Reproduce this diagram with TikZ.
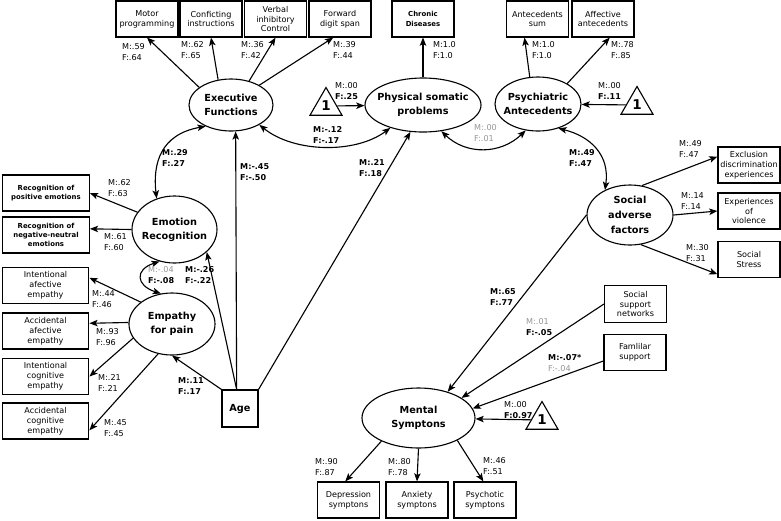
\documentclass[tikz,border=0pt]{standalone}
\usepackage{fontspec}
\setmainfont{DejaVu Sans}
\usetikzlibrary{arrows.meta,shapes.geometric}
\newcommand\boxfont{\fontsize{6.9}{8.5}\selectfont}
\newcommand\boldboxfont{\fontsize{5.9}{8}\selectfont\bfseries}
\newcommand\latfont{\fontsize{8.3}{12}\selectfont\bfseries}
\newcommand\coeffont{\fontsize{6.9}{8.9}\selectfont}
\colorlet{pale}{black!42}

\begin{document}
\begin{tikzpicture}[x = 0.03cm, y = -0.03cm,
    obs/.style = {draw, line width = 0.95pt, minimum width = 1.86cm, minimum height = 1.08cm, inner sep = 1pt, align = center, font = \boxfont},
    obswide/.style = {obs, minimum width = 2.6cm},
    lat/.style = {draw, ellipse, line width = 0.95pt, inner sep = 0pt},
    lattxt/.style = {align = center, font = \latfont},
    one/.style = {draw, regular polygon, regular polygon sides = 3, minimum size = 1.11cm, inner sep = 0pt, line width = 0.95pt, font = \fontsize{11.5}{11.5}\selectfont\bfseries},
    coef/.style = {anchor = west, align = left, inner sep = 0pt, font = \coeffont},
    bcoef/.style = {coef, font = \coeffont\bfseries},
    arr/.style = {line width = 0.95pt, -{Stealth[length = 7pt, width = 5.5pt, inset = 1.6pt]}},
    dbl/.style = {line width = 0.95pt, {Stealth[length = 7pt, width = 5.5pt, inset = 1.6pt]}-{Stealth[length = 7pt, width = 5.5pt, inset = 1.6pt]}}]
        \useasboundingbox(0,0)rectangle(781,520);
        % latent variables
        \node[lat, minimum width = 2.52cm, minimum height = 1.56cm, label = {[lattxt]center:{Executive\\Functions}}](exf)at(231,105){};
        \node[lat, minimum width = 3.48cm, minimum height = 1.62cm, label = {[lattxt]center:{Physical somatic\\problems}}](phy)at(423,105){};
        \node[lat, minimum width = 2.58cm, minimum height = 1.62cm, label = {[lattxt]center:{Psychiatric\\Antecedents}}](psy)at(538,104){};
        \node[lat, minimum width = 2.55cm, minimum height = 2.01cm, label = {[lattxt]center:{Emotion\\Recognition}}](emo)at(174.5,229.5){};
        \node[lat, minimum width = 2.58cm, minimum height = 1.86cm, label = {[lattxt]center:{Empathy\\for pain}}](emp)at(172,324){};
        \node[lat, minimum width = 2.58cm, minimum height = 1.8cm, label = {[lattxt, font = \fontsize{8.3}{13}\selectfont\bfseries]center:{Social\\adverse\\factors}}](soc)at(630,215){};
        \node[lat, minimum width = 3.39cm, minimum height = 1.8cm, label = {[lattxt]center:{Mental\\Symptons}}](men)at(418.5,418){};
        % intercepts
        \node[one](one1)at(326,106){1};
        \node[one](one2)at(637,105){1};
        \node[one](one3)at(542,420){1};
        % top indicators
        \node[obs](motor)at(147,19){Motor\\programming};
        \node[obs](confl)at(211,19){Conficting\\instructions};
        \node[obs](verbal)at(275.5,19){Verbal\\inhibitory\\Control};
        \node[obs](fwd)at(340,19){Forward\\digit span};
        \node[obs, font = \boldboxfont](chron)at(423,19){Chronic\\Diseases};
        \node[obs](antsum)at(537.5,19){Antecedents\\sum};
        \node[obs](antaff)at(603,19){Affective\\antecedents};
        % left indicators
        \node[obswide, font = \boldboxfont](recpos)at(46,193){Recognition of\\positive emotions};
        \node[obswide, font = \boldboxfont](recneg)at(46,235){Recognition of\\negative-neutral\\emotions};
        \node[obswide](intaf)at(45.5,285.5){Intentional\\afective\\empathy};
        \node[obswide](accaf)at(45.5,331){Accidental\\afective\\empathy};
        \node[obswide](intcog)at(45.5,376.5){Intentional\\cognitive\\empathy};
        \node[obswide](acccog)at(45.5,421){Accidental\\cognitive\\empathy};
        \node[obs, minimum width = 1.08cm, minimum height = 1.11cm, font = \latfont](age)at(240,408.5){Age};
        % right indicators
        \node[obs](excl)at(749,165){Exclusion\\discrimination\\experiences};
        \node[obs](viol)at(749,211){Experiences\\of\\violence};
        \node[obs](stress)at(749,259.5){Social\\Stress};
        \node[obs, minimum height = 1.12cm](netw)at(635.5,304){Social\\support\\networks};
        \node[obs, minimum height = 1.1cm](famil)at(635,352.5){Famlilar\\support};
        % bottom indicators
        \node[obs](depr)at(348.5,500){Depression\\symptons};
        \node[obs](anxi)at(417,500){Anxiety\\symptons};
        \node[obs](psyc)at(485,500){Psychotic\\symptons};
        % loadings
        \path[draw, arr](exf.151)to(motor.south);
        \path[draw, arr](exf.117)to(confl.south);
        \path[draw, arr](exf.53)to(verbal.south);
        \path[draw, arr](exf.35)to(fwd.250);
        \path[draw, arr](phy.north)to(chron.south);
        \path[draw, arr](psy.107)to(antsum.235);
        \path[draw, arr](psy.35)to(antaff.290);
        \path[draw, arr](emo.155)to(recpos.east);
        \path[draw, arr](emo.west)to(recneg.8);
        \path[draw, arr](emp.145)to(intaf.10);
        \path[draw, arr](emp.178)to(accaf.10);
        \path[draw, arr](emp.200)to(intcog.east);
        \path[draw, arr](emp.245)to(acccog.348);
        \path[draw, arr](soc.68)to(excl.165);
        \path[draw, arr](soc.east)to(viol.west);
        \path[draw, arr](soc.-70)to(stress.205);
        \path[draw, arr](men.-148)to(depr.100);
        \path[draw, arr](men.south)to(anxi.north);
        \path[draw, arr](men.-30)to(psyc.95);
        % intercepts
        \path[draw, arr](one1)to(phy);
        \path[draw, arr](one2)to(psy);
        \path[draw, arr](one3)to(men);
        % age
        \path[draw, arr](age.north west)to(emp.south);
        \path[draw, arr](age.100)to(emo.-35);
        \path[draw, arr](age.100)to(exf.-80);
        \path[draw, arr](age.north east)to(phy.-115);
        % social paths
        \path[draw, arr](soc.west)to(men.42);
        \path[draw, arr](netw.west)to(men.25);
        \path[draw, arr](famil.195)to(men.10);
        % covariances
        \path[draw, dbl](exf.-35) .. controls +(35,28) and +(-35,26) .. (phy.-145);
        \path[draw, dbl](phy.-55) .. controls +(25,24) and +(-25,24) .. (psy.-115);
        \path[draw, dbl](exf.-140) .. controls +(-45,8) and +(-4,-35) .. (emo.120);
        \path[draw, dbl](emo.-115) .. controls +(-25,8) and +(-25,-8) .. (emp.110);
        \path[draw, dbl](psy.-50) .. controls +(32,8) and +(5,-35) .. (soc.135);
        % coefficients
        \node[coef](cmot)at(122,52){M:.59\\F:.64};
        \node[coef](ccon)at(181,50){M:.62\\F:.65};
        \node[coef](cver)at(241,50){M:.36\\F:.42};
        \node[coef](cfwd)at(333,50){M:.39\\F:.44};
        \node[coef](cchr)at(433,50){M:1.0\\F:1.0};
        \node[coef](csum)at(532,50){M:1.0\\F:1.0};
        \node[coef](caff)at(611,50){M:.78\\F:.85};
        \node[coef](cone1)at(335,91){M:.00\\\textbf{F:.25}};
        \node[coef](cone2)at(598,91){M:.00\\\textbf{F:.11}};
        \node[bcoef](cexphy)at(313,135){M:-.12\\F:-.17};
        \node[coef, text = pale](cphypsy)at(474,133){M:.00\\F:.01};
        \node[bcoef](cpsysoc)at(569,158){M:.49\\F:.47};
        \node[bcoef](cexemo)at(162,158){M:.29\\F:.27};
        \node[bcoef](cageexf)at(240,172){M:-.45\\F:-.50};
        \node[bcoef](cagephy)at(359,168){M:.21\\F:.18};
        \node[coef](cpos)at(108,188){M:.62\\F:.63};
        \node[coef](cneg)at(104,242){M:.61\\F:.60};
        \node[coef](cemoemp)at(148,275){{\color{pale}M:-.04}\\\textbf{F:-.08}};
        \node[bcoef](cageemo)at(185,275){M:-.26\\F:-.22};
        \node[coef](cintaf)at(92,299){M:.44\\F:.46};
        \node[coef](caccaf)at(96,337){M:.93\\F:.96};
        \node[coef](cintcog)at(98,383){M:.21\\F:.21};
        \node[coef](cacccog)at(104,428){M:.45\\F:.45};
        \node[bcoef](cageemp)at(178,386){M:.11\\F:.17};
        \node[coef](cexcl)at(679,149){M:.49\\F:.47};
        \node[coef](cviol)at(681,201){M:.14\\F:.14};
        \node[coef](cstress)at(686,253){M:.30\\F:.31};
        \node[bcoef](csocmen)at(490,297){M:.65\\F:.77};
        \node[coef](cnetw)at(526,327){{\color{pale}M:.01}\\\textbf{F:-.05}};
        \node[coef](cfamil)at(548,363){\textbf{M:-.07*}\\{\color{pale}F:-.04}};
        \node[coef](cone3)at(504,410){M:.00\\\textbf{F:0.97}};
        \node[coef](cdepr)at(315,467){M:.90\\F:.87};
        \node[coef](canxi)at(388,467){M:.80\\F:.78};
        \node[coef](cpsyc)at(483,466){M:.46\\F:.51};
    \end{tikzpicture}
\end{document}
